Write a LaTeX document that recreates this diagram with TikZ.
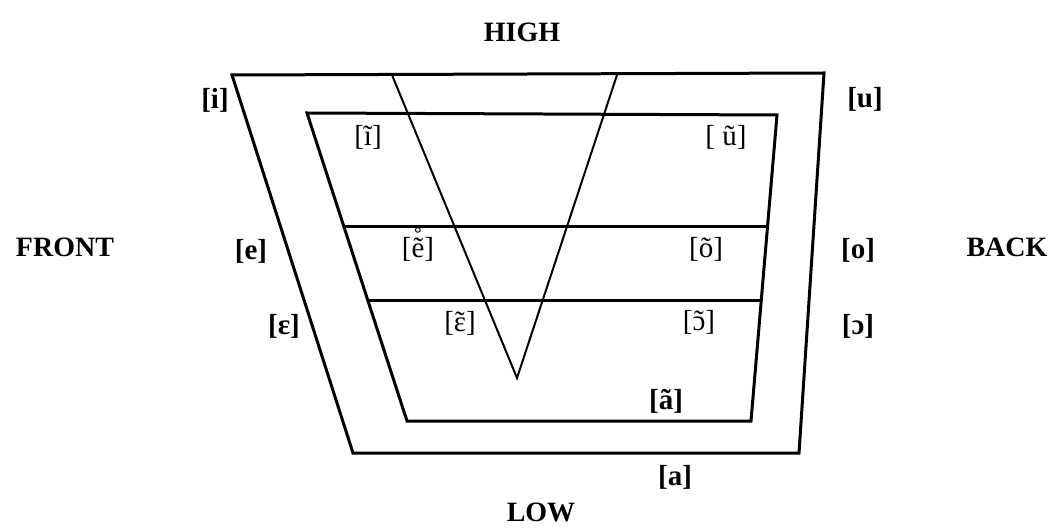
\documentclass[tikz,border=0pt]{standalone}
\usepackage{fontspec}
\setmainfont{Liberation Serif}
\newcommand\tildeover[1]{\ooalign{#1\cr\hidewidth ˜\hidewidth\cr}}
\newcommand\ringtilde{\ooalign{ẽ\cr\hidewidth\raisebox{.3em}{˚}\hidewidth\cr}}
\begin{document}
\begin{tikzpicture}[x=1pt,y=-1pt,
  edge/.style={line width=3pt,line join=miter},
  vline/.style={line width=2pt},
  big/.style={font=\fontsize{28}{30}\selectfont\bfseries},
  blab/.style={font=\fontsize{29}{31}\selectfont\bfseries},
  rlab/.style={font=\fontsize{29}{31}\selectfont}]
\useasboundingbox (0,0) rectangle (1063,529);
% outer trapezoid
\coordinate (o1) at (232,75);
\coordinate (o2) at (824,73);
\coordinate (o3) at (799,453);
\coordinate (o4) at (353,453);
\draw[edge] (o1) -- (o2) -- (o3) -- (o4) -- cycle;
% inner trapezoid
\coordinate (i1) at (307,113);
\coordinate (i2) at (777,115);
\coordinate (i3) at (751,421);
\coordinate (i4) at (407,421);
\draw[edge] (i1) -- (i2) -- (i3) -- (i4) -- cycle;
% horizontal lines
\coordinate (h1a) at (345,227);
\coordinate (h1b) at (767,227);
\coordinate (h2a) at (368,301);
\coordinate (h2b) at (760,301);
\draw[edge] (h1a) -- (h1b);
\draw[edge] (h2a) -- (h2b);
% V
\coordinate (va) at (392,75);
\coordinate (vb) at (617,75);
\coordinate (vc) at (517,378);
\draw[vline] (va) -- (vc) -- (vb);
% labels
\node[big] (high) at (522,32) {HIGH};
\node[big] (low) at (541,512) {LOW};
\node[big] (front) at (65,247) {FRONT};
\node[big] (back) at (1007,247) {BACK};
\node[blab] (li) at (215,100) {[i]};
\node[blab] (lu) at (865,99) {[u]};
\node[blab] (le) at (251,251) {[e]};
\node[blab] (lo) at (858,250) {[o]};
\node[blab] (leps) at (284,326) {[ɛ]};
\node[blab] (lopen) at (858,326) {[ɔ]};
\node[blab] (la) at (675,477) {[a]};
\node[blab] (lat) at (666,401) {[ã]};
\node[rlab] (lit) at (368,137) {[ĩ]};
\node[rlab] (lut) at (726,137) {[ ũ]};
\node[rlab] (let) at (418,249) {[\ringtilde]};
\node[rlab] (lot) at (706,249) {[õ]};
\node[rlab] (lept) at (460,323) {[\tildeover{ɛ}]};
\node[rlab] (lopt) at (699,322) {[\tildeover{ɔ}]};
\end{tikzpicture}
\end{document}
